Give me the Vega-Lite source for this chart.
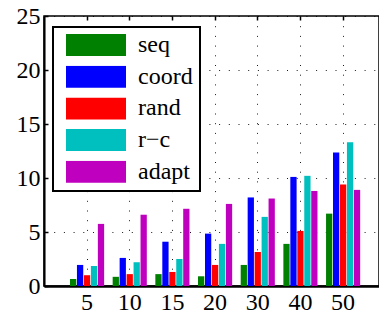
{
  "$schema": "https://vega.github.io/schema/vega-lite/v6.json",
  "width": 335,
  "height": 270,
  "autosize": "none",
  "padding": {"left": 44, "top": 16, "right": 0, "bottom": 36},
  "background": "white",
  "config": {
    "view": {"stroke": "black", "strokeWidth": 1.5},
    "font": "Liberation Serif, DejaVu Serif",
    "legend": {"strokeWidth": 2},
    "axis": {
      "labelFont": "Liberation Serif, DejaVu Serif",
      "labelFontSize": 24,
      "labelColor": "black",
      "domainColor": "black",
      "tickColor": "black",
      "gridColor": "black",
      "gridDash": [1, 8.7],
      "gridWidth": 1,
      "gridOpacity": 0.9,
      "title": null
    }
  },
  "data": {
    "values": [
      {"n": 5, "method": "seq", "v": 0.65},
      {"n": 5, "method": "coord", "v": 1.95},
      {"n": 5, "method": "rand", "v": 1.0},
      {"n": 5, "method": "r\u2212c", "v": 1.85},
      {"n": 5, "method": "adapt", "v": 5.75},
      {"n": 10, "method": "seq", "v": 0.85},
      {"n": 10, "method": "coord", "v": 2.6},
      {"n": 10, "method": "rand", "v": 1.1},
      {"n": 10, "method": "r\u2212c", "v": 2.2},
      {"n": 10, "method": "adapt", "v": 6.6},
      {"n": 15, "method": "seq", "v": 1.1},
      {"n": 15, "method": "coord", "v": 4.1},
      {"n": 15, "method": "rand", "v": 1.3},
      {"n": 15, "method": "r\u2212c", "v": 2.5},
      {"n": 15, "method": "adapt", "v": 7.15},
      {"n": 20, "method": "seq", "v": 0.9},
      {"n": 20, "method": "coord", "v": 4.85},
      {"n": 20, "method": "rand", "v": 1.95},
      {"n": 20, "method": "r\u2212c", "v": 3.9},
      {"n": 20, "method": "adapt", "v": 7.6},
      {"n": 30, "method": "seq", "v": 1.95},
      {"n": 30, "method": "coord", "v": 8.2},
      {"n": 30, "method": "rand", "v": 3.15},
      {"n": 30, "method": "r\u2212c", "v": 6.4},
      {"n": 30, "method": "adapt", "v": 8.1},
      {"n": 40, "method": "seq", "v": 3.9},
      {"n": 40, "method": "coord", "v": 10.1},
      {"n": 40, "method": "rand", "v": 5.1},
      {"n": 40, "method": "r\u2212c", "v": 10.2},
      {"n": 40, "method": "adapt", "v": 8.8},
      {"n": 50, "method": "seq", "v": 6.7},
      {"n": 50, "method": "coord", "v": 12.35},
      {"n": 50, "method": "rand", "v": 9.4},
      {"n": 50, "method": "r\u2212c", "v": 13.3},
      {"n": 50, "method": "adapt", "v": 8.9}
    ]
  },
  "layer": [
    {
      "mark": {"type": "bar"},
      "encoding": {
        "x": {
          "field": "n",
          "type": "ordinal",
          "scale": {"paddingInner": 0.2, "paddingOuter": 0.525, "align": 0.58, "round": false},
          "axis": {
            "orient": "bottom",
            "labelAngle": 0,
            "domainWidth": 2.5,
            "grid": true,
            "bandPosition": 0.5,
            "tickSize": -4,
            "tickWidth": 1.5,
            "labelPadding": 8
          }
        },
        "xOffset": {
          "field": "method",
          "type": "nominal",
          "sort": ["seq", "coord", "rand", "r\u2212c", "adapt"],
          "scale": {"paddingInner": 0.1, "round": false}
        },
        "y": {
          "field": "v",
          "type": "quantitative",
          "scale": {"domain": [0, 25], "nice": false},
          "axis": {
            "values": [0, 5, 10, 15, 20, 25],
            "domainWidth": 2.1,
            "tickSize": -4,
            "tickWidth": 1.5,
            "labelPadding": 8,
            "grid": true
          }
        },
        "color": {
          "field": "method",
          "type": "nominal",
          "sort": ["seq", "coord", "rand", "r\u2212c", "adapt"],
          "scale": {
            "domain": ["seq", "coord", "rand", "r\u2212c", "adapt"],
            "range": ["#008000", "#0000ff", "#ff0000", "#00bfbf", "#bf00bf"]
          },
          "legend": {
            "orient": "none",
            "legendX": 9,
            "legendY": 11,
            "title": null,
            "symbolType": "M-1,-0.367H1V0.367H-1Z",
            "symbolSize": 3600,
            "clipHeight": 22,
            "rowPadding": 7.7,
            "symbolOffset": 6,
            "labelOffset": 12,
            "labelFontSize": 24,
            "labelFont": "Liberation Serif, DejaVu Serif",
            "labelColor": "black",
            "padding": 7,
            "strokeColor": "black",
            "fillColor": "white",
            "symbolStrokeWidth": 0,
            "symbolOpacity": 1
          }
        }
      }
    },
    {
      "mark": {"type": "bar", "opacity": 0},
      "encoding": {
        "x": {
          "field": "n",
          "type": "ordinal",
          "axis": {
            "orient": "top",
            "labels": false,
            "domain": false,
            "grid": false,
            "bandPosition": 0.5,
            "tickSize": -4,
            "tickWidth": 1.5
          }
        },
        "y": {"field": "v", "type": "quantitative"}
      }
    }
  ],
  "resolve": {"axis": {"x": "independent"}}
}
